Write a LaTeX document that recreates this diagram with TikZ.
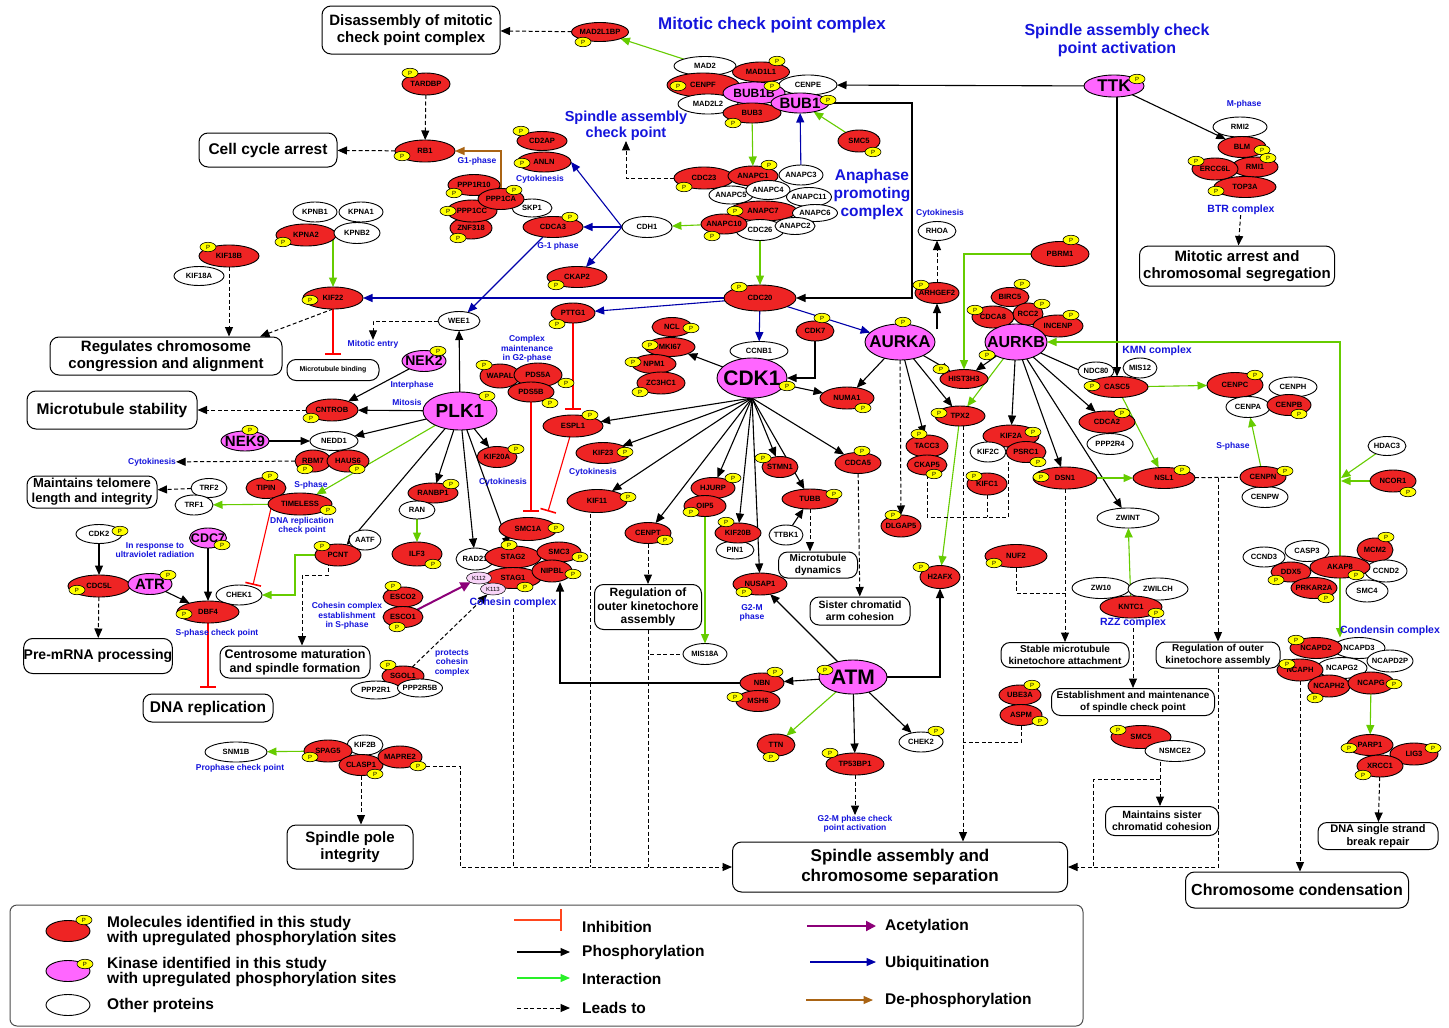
\documentclass[tikz,border=0pt]{standalone}
\usepackage{fontspec}
\setmainfont{Liberation Sans}
\usetikzlibrary{arrows.meta,shapes.geometric}
\definecolor{myred}{RGB}{238,36,36}
\definecolor{mypink}{RGB}{255,102,255}
\definecolor{myyel}{RGB}{255,255,0}
\definecolor{igreen}{RGB}{102,204,0}
\definecolor{ublue}{RGB}{0,0,170}
\definecolor{tblue}{RGB}{20,20,220}
\definecolor{abrown}{RGB}{170,100,20}
\definecolor{apurple}{RGB}{140,0,120}
\definecolor{lgreen}{RGB}{40,240,40}
\definecolor{linh}{RGB}{255,70,30}
\definecolor{palepink}{RGB}{248,212,248}
\newcommand\fsz[2]{\fontsize{#1}{#2}\selectfont}
\pgfdeclarelayer{bg}\pgfdeclarelayer{top}\pgfsetlayers{bg,main,top}
\tikzset{
 every node/.style={font=\bfseries\fsz{7.6}{8}},
 ebase/.style={ellipse, draw=black, line width=0.9pt, inner sep=0pt, outer sep=0pt},
 rd/.style={ebase, fill=myred},
 wt/.style={ebase, fill=white},
 kn/.style={ebase, fill=mypink},
 lk/.style={ebase, fill=palepink, line width=0.5pt, font=\mdseries\fsz{6}{6}},
 kf/.style={font=\bfseries\fsz{#1}{#1}},
 pbadge/.style={ellipse, draw=black, line width=0.6pt, fill=myyel, minimum width=16pt, minimum height=9.5pt, inner sep=0pt, font=\mdseries\fsz{6}{6}},
 obx/.style={draw=black, line width=1pt, rounded corners=9pt, fill=white, align=center, inner sep=0pt},
 lbl/.style={text=tblue, align=center, font=\bfseries\fsz{8.5}{9.5}, inner sep=0pt},
 ttl/.style={text=tblue, align=center, inner sep=0pt},
 AR/.style={-{Triangle[length=9.5pt,width=8pt]}},
 ph/.style={draw=black, line width=1.1pt, AR},
 ia/.style={draw=igreen, line width=1.1pt, AR},
 ub/.style={draw=ublue, line width=1.1pt, AR},
 lt/.style={draw=black, line width=1pt, dash pattern=on 4pt off 2.5pt, AR},
 ltn/.style={draw=black, line width=1pt, dash pattern=on 4pt off 2.5pt},
 inh/.style={draw=red, line width=1.1pt, -{Bar[width=16pt,line width=1.6pt]}},
 ac/.style={draw=apurple, line width=2pt, -{Triangle[length=10pt,width=10pt]}},
 dp/.style={draw=abrown, line width=1.1pt, AR},
 legt/.style={anchor=west, align=left, inner sep=0pt, font=\bfseries\fsz{15.5}{15.5}},
}
\newcommand\prt[6]{\node[#1,minimum width=#4pt,minimum height=#5pt] (#2) at (#3) {\makebox[0pt]{#6}};}
\newcommand\pb[2]{\begin{pgfonlayer}{top}\node[pbadge] (#1p) at (#2) {\makebox[0pt]{P}};\end{pgfonlayer}}
\newcommand\obox[7]{\node[obx,minimum width=#3pt,minimum height=#4pt,font=\bfseries\fsz{#5}{#6}] (#1) at (#2) {#7};}
\begin{document}
\begin{tikzpicture}[x=1pt,y=-1pt]
\begin{pgfonlayer}{bg}
\fill[white] (0,0) rectangle (1449,1028);
\end{pgfonlayer}
\useasboundingbox (0,0) rectangle (1449,1028);

% ---------- titles ----------
\node[ttl,font=\bfseries\fsz{17}{19}] (tMCC) at (772,25) {Mitotic check point complex};
\node[ttl,font=\bfseries\fsz{16}{18}] (tSAC) at (1117,40) {Spindle assembly check\\point activation};
\node[ttl,font=\bfseries\fsz{14.5}{16}] (tSACP) at (626,126) {Spindle assembly\\check point};
\node[ttl,font=\bfseries\fsz{15.5}{18}] (tAPC) at (872,194) {Anaphase\\promoting\\complex};

% ---------- outcome boxes ----------
\obox{oDis}{411,30}{178}{48}{15}{17}{Disassembly of mitotic\\check point complex}
\obox{oCCA}{268,150}{138}{34}{15.5}{17}{Cell cycle arrest}
\obox{oReg}{166,356}{232}{38}{15}{16.5}{Regulates chromosome\\congression and alignment}
\obox{oMTB}{333,370}{92}{21}{7}{8}{Microtubule binding}
\obox{oMS}{112,410}{170}{38}{15.5}{17}{Microtubule stability}
\obox{oTel}{92,492}{130}{32}{13}{15}{Maintains telomere\\length and integrity}
\obox{oPre}{98,656}{143}{35}{14}{16}{Pre-mRNA processing}
\obox{oDNA}{208,708}{130}{28}{15.5}{17}{DNA replication}
\obox{oCen}{295,662}{150}{32}{12.5}{14}{Centrosome maturation\\and spindle formation}
\obox{oSPI}{350,847}{126}{44}{15}{17}{Spindle pole\\integrity}
\obox{oROK}{648,607}{107}{45}{12}{13.5}{Regulation of\\outer kinetochore\\assembly}
\obox{oMTD}{818,565}{79}{26}{10}{11.5}{Microtubule\\dynamics}
\obox{oSCA}{860,611}{100}{28}{10.5}{12}{Sister chromatid\\arm cohesion}
\obox{oSAS}{900,867}{335}{50}{17}{19.5}{Spindle assembly and\\chromosome separation}
\obox{oSMK}{1065,655}{128}{25}{10}{11.5}{Stable microtubule\\kinetochore attachment}
\obox{oROK2}{1218,655}{124}{26}{10}{11.5}{Regulation of outer\\kinetochore assembly}
\obox{oEst}{1133,702}{163}{27}{10}{11.5}{Establishment and maintenance\\of spindle check point}
\obox{oMSC}{1162,821}{113}{29}{10.5}{12}{Maintains sister\\chromatid cohesion}
\obox{oMA}{1237,266}{195}{40}{15}{17}{Mitotic arrest and\\chromosomal segregation}
\obox{oCC}{1297,890}{223}{36}{16}{18}{Chromosome condensation}
\obox{oDSB}{1378,836}{120}{27}{11}{12.5}{DNA single strand\\break repair}

% ---------- blue labels ----------
\node[lbl] (lCyt1) at (540,179) {Cytokinesis};
\node[lbl] (lG1p) at (477,161) {G1-phase};
\node[lbl] (lG1) at (558,246) {G-1 phase};
\node[lbl] (lCyt2) at (940,213) {Cytokinesis};
\node[lbl] (lMent) at (373,344) {Mitotic entry};
\node[lbl] (lCmp) at (527,349) {Complex\\maintenance\\in G2-phase};
\node[lbl] (lInt) at (412,385) {Interphase};
\node[lbl] (lMit) at (407,402) {Mitosis};
\node[lbl] (lCyt3) at (152,462) {Cytokinesis};
\node[lbl] (lCyt4) at (503,482) {Cytokinesis};
\node[lbl] (lCyt5) at (593,472) {Cytokinesis};
\node[lbl] (lSph) at (311,485) {S-phase};
\node[lbl] (lDRC) at (302,526) {DNA replication\\check point};
\node[lbl] (lUV) at (155,550) {In response to\\ultraviolet radiation};
\node[lbl] (lSCP) at (217,633) {S-phase check point};
\node[lbl] (lCoh) at (347,616) {Cohesin complex\\establishment\\in S-phase};
\node[lbl,font=\bfseries\fsz{10.5}{12}] (lCohC) at (513,603) {Cohesin complex};
\node[lbl] (lProt) at (452,663) {protects\\cohesin\\complex};
\node[lbl] (lG2M) at (752,613) {G2-M\\phase};
\node[lbl] (lG2Ma) at (855,824) {G2-M phase check\\point activation};
\node[lbl] (lPro) at (240,768) {Prophase check point};
\node[lbl] (lMph) at (1244,104) {M-phase};
\node[lbl,font=\bfseries\fsz{10.5}{12}] (lBTR) at (1241,210) {BTR complex};
\node[lbl,font=\bfseries\fsz{10.5}{12}] (lKMN) at (1157,351) {KMN complex};
\node[lbl] (lSph2) at (1233,446) {S-phase};
\node[lbl,font=\bfseries\fsz{10.5}{12}] (lRZZ) at (1133,623) {RZZ complex};
\node[lbl,font=\bfseries\fsz{10.5}{12}] (lCond) at (1390,631) {Condensin complex};

% ---------- mitotic checkpoint complex ----------
\prt{rd}{MAD2L1BP}{600,32}{57}{19}{MAD2L1BP}\pb{MAD2L1BP}{583,42}
\prt{wt}{MAD2}{705,66}{62}{19}{MAD2}
\prt{rd}{CENPF}{703,85}{72}{24}{CENPF}\pb{CENPF}{678,86}
\prt{wt}{MAD2L2}{708,104}{60}{20}{MAD2L2}
\prt{rd}{MAD1L1}{761,72}{57}{20}{MAD1L1}\pb{MAD1L1}{777,61}
\prt{wt}{CENPE}{808,85}{58}{20}{CENPE}
\prt{kn,kf=12}{BUB1B}{754,93}{62}{22}{BUB1B}\pb{BUB1B}{772,86}
\prt{rd}{BUB3}{752,113}{58}{20}{BUB3}\pb{BUB3}{733,123}
\prt{kn,kf=15}{BUB1}{800,103}{58}{20}{BUB1}\pb{BUB1}{828,100}
\prt{rd}{SMC5a}{859,141}{42}{22}{SMC5}\pb{SMC5a}{873,152}

% ---------- APC ----------
\prt{rd}{CDC23}{704,178}{60}{22}{CDC23}\pb{CDC23}{684,187}
\prt{rd}{ANAPC1}{753,176}{50}{20}{ANAPC1}\pb{ANAPC1}{769,165}
\prt{wt}{ANAPC3}{801,175}{44}{20}{ANAPC3}
\prt{wt}{ANAPC5}{731,195}{44}{18}{ANAPC5}
\prt{wt}{ANAPC4}{768,190}{44}{19}{ANAPC4}
\prt{wt}{ANAPC11}{809,197}{45}{19}{ANAPC11}
\prt{rd}{ANAPC7}{763,211}{68}{20}{ANAPC7}\pb{ANAPC7}{735,211}
\prt{wt}{ANAPC6}{815,213}{45}{17}{ANAPC6}
\prt{wt}{CDC26}{760,230}{48}{21}{CDC26}
\prt{rd}{ANAPC10}{724,224}{46}{20}{ANAPC10}\pb{ANAPC10}{712,236}
\prt{wt}{ANAPC2}{795,226}{40}{17}{ANAPC2}
\prt{wt}{CDH1}{647,227}{50}{21}{CDH1}

% ---------- left-top ----------
\prt{rd}{CD2AP}{542,141}{50}{19}{CD2AP}\pb{CD2AP}{521,131}
\prt{rd}{ANLN}{544,162}{54}{20}{ANLN}\pb{ANLN}{522,163}
\prt{rd}{CDCA3}{553,227}{60}{21}{CDCA3}\pb{CDCA3}{570,217}
\prt{rd}{CKAP2}{577,277}{60}{21}{CKAP2}\pb{CKAP2}{556,285}
\prt{rd}{ZNF318}{471,228}{42}{22}{ZNF318}\pb{ZNF318}{458,238}
\prt{rd}{PPP1CC}{472,211}{50}{22}{PPP1CC}\pb{PPP1CC}{448,211}
\prt{rd}{PPP1R10}{474,185}{52}{21}{PPP1R10}\pb{PPP1R10}{454,193}
\prt{wt}{SKP1}{532,208}{40}{18}{SKP1}
\prt{rd}{PPP1CA}{501,199}{46}{21}{PPP1CA}\pb{PPP1CA}{514,190}
\prt{rd}{RB1}{425,151}{60}{22}{RB1}\pb{RB1}{402,156}
\prt{rd}{TARDBP}{426,84}{48}{22}{TARDBP}\pb{TARDBP}{410,73}
\prt{wt}{KPNB1}{315,212}{44}{20}{KPNB1}
\prt{wt}{KPNA1}{361,212}{44}{20}{KPNA1}
\prt{rd}{KPNA2}{306,235}{60}{22}{KPNA2}\pb{KPNA2}{283,242}
\prt{wt}{KPNB2}{357,233}{46}{21}{KPNB2}
\prt{wt}{KIF18A}{199,276}{50}{19}{KIF18A}
\prt{rd}{KIF18B}{229,256}{60}{22}{KIF18B}\pb{KIF18B}{208,247}
\prt{rd}{KIF22}{333,298}{60}{22}{KIF22}\pb{KIF22}{310,300}

% ---------- PLK1 region ----------
\prt{rd}{CDC20}{760,298}{72}{26}{CDC20}\pb{CDC20}{739,287}
\prt{rd}{PTTG1}{573,313}{44}{20}{PTTG1}\pb{PTTG1}{557,324}
\prt{wt}{WEE1}{459,321}{42}{19}{WEE1}
\prt{kn,kf=14}{NEK2}{424,361}{44}{21}{NEK2}\pb{NEK2}{438,351}
\prt{kn,kf=19}{PLK1}{460,411}{74}{38}{PLK1}\pb{PLK1}{487,396}
\prt{rd}{CNTROB}{332,410}{52}{22}{CNTROB}\pb{CNTROB}{311,418}
\prt{kn,kf=15}{NEK9}{245,441}{48}{20}{NEK9}\pb{NEK9}{250,430}
\prt{wt}{NEDD1}{334,441}{48}{19}{NEDD1}
\prt{rd}{RBM7}{313,461}{36}{22}{RBM7}\pb{RBM7}{305,469}
\prt{rd}{HAUS6}{348,461}{42}{22}{HAUS6}\pb{HAUS6}{357,469}
\prt{wt}{TRF2}{209,488}{36}{19}{TRF2}
\prt{wt}{TRF1}{194,505}{38}{20}{TRF1}
\prt{rd}{TIPIN}{266,488}{40}{21}{TIPIN}\pb{TIPIN}{270,476}
\prt{rd}{TIMELESS}{300,504}{64}{22}{TIMELESS}\pb{TIMELESS}{328,510}
\prt{wt}{CDK2}{99,534}{46}{19}{CDK2}\pb{CDK2}{120,531}
\prt{rd}{CDC5L}{99,586}{62}{22}{CDC5L}\pb{CDC5L}{77,590}
\prt{kn,kf=15}{ATR}{150,584}{44}{21}{ATR}\pb{ATR}{168,575}
\prt{kn,kf=12.5}{CDC7}{208,538}{37}{20}{CDC7}\pb{CDC7}{222,545}
\prt{wt}{CHEK1}{239,595}{46}{20}{CHEK1}
\prt{rd}{DBF4}{208,612}{62}{22}{DBF4}\pb{DBF4}{184,614}
\prt{wt}{AATF}{365,540}{32}{20}{AATF}
\prt{rd}{PCNT}{338,555}{46}{22}{PCNT}\pb{PCNT}{322,546}
\prt{rd}{KIF20A}{497,457}{40}{21}{KIF20A}\pb{KIF20A}{516,449}
\prt{rd}{RANBP1}{433,493}{50}{20}{RANBP1}\pb{RANBP1}{451,484}
\prt{wt}{RAN}{417,510}{36}{18}{RAN}
\prt{rd}{ILF3}{417,554}{50}{24}{ILF3}\pb{ILF3}{433,564}
\prt{rd}{WAPAL}{500,376}{40}{24}{WAPAL}\pb{WAPAL}{484,365}
\prt{rd}{PDS5A}{538,375}{48}{24}{PDS5A}\pb{PDS5A}{566,383}
\prt{rd}{PDS5B}{531,392}{46}{20}{PDS5B}\pb{PDS5B}{550,403}
\prt{rd}{ESPL1}{573,426}{60}{22}{ESPL1}\pb{ESPL1}{590,415}
\prt{rd}{KIF23}{603,453}{54}{21}{KIF23}\pb{KIF23}{625,452}
\prt{rd}{KIF11}{597,501}{60}{23}{KIF11}\pb{KIF11}{628,497}
\prt{rd}{SMC1A}{528,529}{58}{23}{SMC1A}\pb{SMC1A}{556,528}
\prt{wt}{RAD21}{475,559}{38}{22}{RAD21}
\prt{rd}{STAG2}{513,557}{56}{22}{STAG2}\pb{STAG2}{509,545}
\prt{rd}{SMC3}{559,552}{44}{20}{SMC3}\pb{SMC3}{580,557}
\prt{rd}{STAG1}{513,578}{56}{21}{STAG1}\pb{STAG1}{525,587}
\prt{rd}{NIPBL}{552,571}{40}{22}{NIPBL}\pb{NIPBL}{573,574}
\prt{lk}{K112}{479,578}{25}{12}{K112}
\prt{lk}{K113}{493,589}{25}{12}{K113}
\prt{rd}{ESCO2}{403,597}{40}{20}{ESCO2}\pb{ESCO2}{393,586}
\prt{rd}{ESCO1}{403,617}{40}{21}{ESCO1}\pb{ESCO1}{397,627}
\prt{rd}{SGOL1}{403,676}{42}{20}{SGOL1}\pb{SGOL1}{388,665}
\prt{wt}{PPP2R1}{376,690}{50}{18}{PPP2R1}
\prt{wt}{PPP2R5B}{420,688}{45}{18}{PPP2R5B}

% ---------- CDK1 region ----------
\prt{rd}{NCL}{672,327}{40}{19}{NCL}\pb{NCL}{691,328}
\prt{rd}{MKI67}{670,347}{50}{19}{MKI67}\pb{MKI67}{650,345}
\prt{rd}{NPM1}{654,364}{44}{19}{NPM1}\pb{NPM1}{633,362}
\prt{rd}{ZC3HC1}{661,383}{48}{22}{ZC3HC1}\pb{ZC3HC1}{640,392}
\prt{wt}{CCNB1}{759,351}{58}{19}{CCNB1}
\prt{kn,kf=21}{CDK1}{752,378}{70}{40}{CDK1}\pb{CDK1}{787,386}
\prt{rd}{CDK7}{815,331}{38}{20}{CDK7}\pb{CDK7}{822,318}
\prt{rd}{NUMA1}{847,398}{54}{22}{NUMA1}\pb{NUMA1}{863,408}
\prt{rd}{CENPT}{648,533}{46}{21}{CENPT}\pb{CENPT}{665,540}
\prt{rd}{HJURP}{713,488}{44}{21}{HJURP}\pb{HJURP}{733,478}
\prt{rd}{OIP5}{705,506}{42}{21}{OIP5}\pb{OIP5}{691,512}
\prt{wt}{PIN1}{735,550}{38}{18}{PIN1}
\prt{rd}{KIF20B}{738,533}{46}{20}{KIF20B}\pb{KIF20B}{726,522}
\prt{rd}{STMN1}{780,467}{36}{21}{STMN1}\pb{STMN1}{763,458}
\prt{rd}{TUBB}{810,499}{56}{20}{TUBB}\pb{TUBB}{834,494}
\prt{wt}{TTBK1}{786,535}{34}{20}{TTBK1}
\prt{rd}{NUSAP1}{760,584}{54}{22}{NUSAP1}\pb{NUSAP1}{744,592}
\prt{rd}{CDCA5}{858,463}{46}{21}{CDCA5}\pb{CDCA5}{862,451}
\prt{wt}{MIS18A}{705,654}{44}{21}{MIS18A}

% ---------- AURKA / AURKB ----------
\prt{kn,kf=17}{AURKA}{900,342}{70}{36}{AURKA}\pb{AURKA}{903,322}
\prt{rd}{ARHGEF2}{937,293}{44}{21}{ARHGEF2}\pb{ARHGEF2}{921,285}
\prt{wt}{RHOA}{937,231}{38}{19}{RHOA}
\prt{rd}{HIST3H3}{964,379}{48}{19}{HIST3H3}\pb{HIST3H3}{941,369}
\prt{rd}{TPX2}{960,416}{50}{20}{TPX2}\pb{TPX2}{939,413}
\prt{rd}{TACC3}{927,446}{42}{22}{TACC3}\pb{TACC3}{919,434}
\prt{rd}{CKAP5}{927,465}{40}{20}{CKAP5}\pb{CKAP5}{934,474}
\prt{rd}{DLGAP5}{901,526}{40}{22}{DLGAP5}\pb{DLGAP5}{893,515}
\prt{rd}{H2AFX}{940,577}{40}{23}{H2AFX}\pb{H2AFX}{921,567}
\prt{rd}{KIF2A}{1011,436}{56}{22}{KIF2A}\pb{KIF2A}{1033,432}
\prt{wt}{KIF2C}{988,452}{36}{20}{KIF2C}
\prt{rd}{PSRC1}{1026,452}{40}{21}{PSRC1}\pb{PSRC1}{1038,462}
\prt{rd}{KIFC1}{987,484}{40}{22}{KIFC1}\pb{KIFC1}{974,476}
\prt{rd}{PBRM1}{1060,254}{58}{25}{PBRM1}\pb{PBRM1}{1071,240}
\prt{rd}{BIRC5}{1010,297}{38}{19}{BIRC5}\pb{BIRC5}{1022,284}
\prt{rd}{CDCA8}{993,317}{42}{22}{CDCA8}\pb{CDCA8}{975,310}
\prt{rd}{RCC2}{1028,314}{30}{22}{RCC2}\pb{RCC2}{1042,304}
\prt{rd}{INCENP}{1058,326}{50}{22}{INCENP}\pb{INCENP}{1071,315}
\prt{kn,kf=16}{AURKB}{1016,342}{62}{36}{AURKB}\pb{AURKB}{987,355}
\prt{rd}{DSN1}{1065,478}{64}{22}{DSN1}\pb{DSN1}{1041,477}
\prt{rd}{NUF2}{1016,556}{62}{23}{NUF2}\pb{NUF2}{994,563}
\prt{rd}{UBE3A}{1020,695}{42}{20}{UBE3A}\pb{UBE3A}{1032,685}
\prt{rd}{ASPM}{1021,715}{42}{21}{ASPM}\pb{ASPM}{1040,721}

% ---------- ATM ----------
\prt{kn,kf=21}{ATM}{853,677}{68}{34}{ATM}\pb{ATM}{825,670}
\prt{rd}{NBN}{762,683}{44}{20}{NBN}\pb{NBN}{775,672}
\prt{rd}{MSH6}{758,701}{44}{21}{MSH6}\pb{MSH6}{735,697}
\prt{rd}{TTN}{776,745}{38}{22}{TTN}\pb{TTN}{771,757}
\prt{rd}{TP53BP1}{855,764}{58}{22}{TP53BP1}\pb{TP53BP1}{830,753}
\prt{wt}{CHEK2}{921,742}{44}{20}{CHEK2}\pb{CHEK2}{936,731}

% ---------- spindle pole ----------
\prt{wt}{SNM1B}{236,752}{62}{20}{SNM1B}
\prt{wt}{KIF2B}{365,745}{36}{20}{KIF2B}
\prt{rd}{SPAG5}{328,751}{48}{22}{SPAG5}\pb{SPAG5}{310,757}
\prt{rd}{CLASP1}{361,765}{44}{21}{CLASP1}\pb{CLASP1}{375,774}
\prt{rd}{MAPRE2}{400,757}{44}{22}{MAPRE2}\pb{MAPRE2}{418,766}

% ---------- TTK / BTR ----------
\prt{kn,kf=17}{TTK}{1114,86}{60}{22}{TTK}\pb{TTK}{1137,79}
\prt{wt}{RMI2}{1240,127}{54}{20}{RMI2}
\prt{rd}{BLM}{1242,147}{48}{21}{BLM}\pb{BLM}{1262,150}
\prt{rd}{RMI1}{1255,167}{46}{20}{RMI1}\pb{RMI1}{1268,158}
\prt{rd}{TOP3A}{1245,187}{62}{21}{TOP3A}\pb{TOP3A}{1216,191}
\prt{rd}{ERCC6L}{1215,169}{46}{22}{ERCC6L}\pb{ERCC6L}{1196,161}

% ---------- KMN etc ----------
\prt{wt}{NDC80}{1096,371}{36}{18}{NDC80}
\prt{wt}{MIS12}{1140,368}{34}{20}{MIS12}
\prt{rd}{CASC5}{1117,387}{62}{21}{CASC5}\pb{CASC5}{1092,386}
\prt{rd}{CDCA2}{1107,422}{56}{22}{CDCA2}\pb{CDCA2}{1122,413}
\prt{wt}{PPP2R4}{1110,444}{46}{21}{PPP2R4}
\prt{rd}{CENPC}{1235,385}{56}{25}{CENPC}\pb{CENPC}{1255,375}
\prt{wt}{CENPH}{1293,387}{48}{20}{CENPH}
\prt{wt}{CENPA}{1248,407}{44}{21}{CENPA}
\prt{rd}{CENPB}{1289,405}{44}{21}{CENPB}\pb{CENPB}{1299,414}
\prt{rd}{NSL1}{1164,478}{62}{21}{NSL1}\pb{NSL1}{1182,470}
\prt{wt}{CENPW}{1265,497}{46}{21}{CENPW}
\prt{rd}{CENPN}{1263,477}{46}{21}{CENPN}\pb{CENPN}{1285,471}
\prt{wt}{ZWINT}{1128,518}{62}{20}{ZWINT}
\prt{wt}{ZW10}{1101,588}{58}{21}{ZW10}
\prt{wt}{ZWILCH}{1158,589}{60}{22}{ZWILCH}
\prt{rd}{KNTC1}{1131,607}{62}{22}{KNTC1}\pb{KNTC1}{1156,613}
\prt{wt}{HDAC3}{1387,446}{38}{19}{HDAC3}
\prt{rd}{NCOR1}{1393,481}{46}{22}{NCOR1}\pb{NCOR1}{1408,492}
\prt{wt}{CCND3}{1264,557}{42}{20}{CCND3}
\prt{wt}{CASP3}{1307,551}{44}{21}{CASP3}
\prt{rd}{MCM2}{1375,550}{36}{24}{MCM2}\pb{MCM2}{1386,537}
\prt{wt}{CCND2}{1386,571}{42}{22}{CCND2}
\prt{wt}{SMC4}{1367,591}{42}{22}{SMC4}
\prt{rd}{DDX5}{1291,572}{40}{20}{DDX5}\pb{DDX5}{1276,580}
\prt{rd}{PRKAR2A}{1314,588}{46}{21}{PRKAR2A}\pb{PRKAR2A}{1326,598}
\prt{rd}{AKAP8}{1340,567}{60}{22}{AKAP8}\pb{AKAP8}{1356,575}
\prt{wt}{NCAPD3}{1359,648}{52}{21}{NCAPD3}
\prt{wt}{NCAPD2P}{1390,661}{46}{22}{NCAPD2P}
\prt{rd}{NCAPD2}{1316,648}{52}{21}{NCAPD2}\pb{NCAPD2}{1296,640}
\prt{wt}{NCAPG2}{1342,668}{50}{21}{NCAPG2}
\prt{rd}{NCAPH}{1300,670}{46}{22}{NCAPH}\pb{NCAPH}{1287,664}
\prt{rd}{NCAPH2}{1329,686}{42}{22}{NCAPH2}\pb{NCAPH2}{1315,698}
\prt{rd}{NCAPG}{1371,683}{46}{22}{NCAPG}\pb{NCAPG}{1394,684}
\prt{rd}{LIG3}{1414,754}{48}{22}{LIG3}\pb{LIG3}{1433,748}
\prt{rd}{PARP1}{1370,745}{46}{21}{PARP1}\pb{PARP1}{1349,748}
\prt{rd}{XRCC1}{1380,766}{46}{22}{XRCC1}\pb{XRCC1}{1363,775}
\prt{rd}{SMC5b}{1141,737}{60}{23}{SMC5}\pb{SMC5b}{1118,730}
\prt{wt}{NSMCE2}{1175,751}{60}{21}{NSMCE2}

% ---------- junction coordinates ----------
\coordinate (nufj) at (1065,593);
\coordinate (aspj) at (963,742);
\coordinate (brk) at (1008,517);
\coordinate (akj) at (1341,478);
\coordinate (akj2) at (1341,481);

% ---------- connectors ----------
\begin{pgfonlayer}{bg}
\draw[lt] (MAD2L1BP) -- (oDis);
\draw[ia] (MAD2) -- (MAD2L1BP);
\draw[ph] (TTK) -- (CENPE);
\draw[ia] (BUB3) -- (ANAPC1);
\draw[ub] (ANAPC3) -- (BUB1);
\draw[ia] (SMC5a) -- (BUB1);
\draw[ph] (BUB1.east) -- ++(83,0) |- (CDC20.east);
\draw[lt] (CDC23.west) -| (tSACP.south);
\draw[ia] (ANAPC10) -- (CDH1);
\draw[ia] (CDC26) -- (CDC20);
\draw[ub] (CDH1.west) -- (ANLN.east);
\draw[ub] (CDH1.west) -- (CDCA3);
\draw[ub] (CDH1.west) -- (CKAP2);
\draw[ub] (CDCA3) -- (WEE1);
\draw[dp] (PPP1CA.north) |- (RB1.east);
\draw[lt] (TARDBP) -- (RB1);
\draw[lt] (RB1) -- (oCCA);
\draw[ia] (KIF22.north |- KPNA2.center) -- (KIF22.north);
\draw[ub] (CDC20) -- (KIF22);
\draw[ub] (CDC20) -- (PTTG1);
\draw[ub] (CDC20) -- (CCNB1);
\draw[ub] (CDC20) -- (AURKA);
\draw[lt] (KIF22.south) -- ([xshift=94pt]oReg.north);
\draw[inh] (KIF22.south) -- ([yshift=4pt]oMTB.north);
\draw[lt] (KIF18B.south) -- (KIF18B.south |- oReg.north);
\draw[lt] (WEE1.west) -| (lMent.north);
\draw[ph] (PLK1) -- (WEE1);
\draw[ph] (NEK2) -- (CNTROB);
\draw[ph] (PLK1) -- (CNTROB);
\draw[lt] (CNTROB) -- (oMS);
\draw[ph] (NEK9) -- (NEDD1);
\draw[ph] (PLK1) -- (NEDD1);
\draw[lt] (RBM7) -- (lCyt3);
\draw[lt] (TRF2) -- (oTel);
\draw[ia] (TIMELESS) -- (TRF1);
\draw[ia] (PLK1) -- (TIMELESS);
\draw[inh] ([xshift=-28pt]TIMELESS.center) -- ([xshift=14pt]CHEK1.north);
\draw[ph] (CDK2) -- (CDC5L);
\draw[lt] (CDC5L) -- (oPre);
\draw[ph] (ATR) -- (DBF4);
\draw[ph] (CDC7) -- (DBF4);
\draw[inh] (DBF4) -- ([yshift=6pt]oDNA.north);
\draw[ia] (PCNT.west) -- ++(-20,0) |- (CHEK1.east);
\draw[ph] (PLK1) -- (PCNT);
\draw[lt] ([xshift=-10pt]PCNT.center) -- ++(0,20) -| ([xshift=7pt]oCen.north);
\draw[ph] (PLK1) -- (KIF20A);
\draw[ph] (PLK1) -- (RANBP1);
\draw[ia] (RAN) -- (ILF3);
\draw[ph] (PLK1) -- (RAD21);
\draw[ph] (PLK1) -- (STAG2);
\draw[ac] (ESCO1) -- (K112);
\draw[lt] (SGOL1) -- (K113);
\draw[inh] (PDS5B.south) -- ([xshift=3pt,yshift=6pt]SMC1A.north);
\draw[inh] (PTTG1) -- ([yshift=5pt]ESPL1.north);
\draw[inh] (ESPL1) -- ([xshift=20pt,yshift=6pt]SMC1A.north);
\draw[ph] (CDK1.south) -- (ESPL1);
\draw[ph] (CDK1.south) -- (KIF23);
\draw[ph] (CDK1.south) -- (KIF11);
\draw[ph] (CDK1.south) -- (CENPT);
\draw[ph] (CDK1.south) -- (HJURP);
\draw[ph] (CDK1.south) -- (KIF20B);
\draw[ph] (CDK1.south) -- (NUSAP1);
\draw[ph] (CDK1.south) -- (STMN1);
\draw[ph] (CDK1.south) -- (TUBB);
\draw[ph] (CDK1.south) -- (CDCA5);
\draw[ph] (CDK1) -- (NUMA1);
\draw[ph] (CDK1) -- (MKI67);
\draw[ph] (CDK7.south) |- (CDK1.east);
\draw[ph] (TTBK1) -- (TUBB);
\draw[lt] (TUBB.south) -- (TUBB.south |- oMTD.north);
\draw[lt] (CDCA5) -- (oSCA);
\draw[lt] (CENPT) -- (oROK);
\draw[ia] (OIP5) -- (MIS18A);
\draw[ltn] (oROK.south) |- (MIS18A.west);
\draw[lt] (MAPRE2p.east) -| ([xshift=-272pt]oSAS.west) -- (oSAS.west);
\draw[ltn] (lCohC.south) -- (lCohC.south |- oSAS.west);
\draw[ltn] ([xshift=-7pt]KIF11.center) -- ([xshift=-7pt]KIF11.center |- oSAS.west);
\draw[ltn] (oROK.south) -- (oROK.south |- oSAS.west);
\draw[ph] (NBN.west) -| ([xshift=8pt]NIPBL.south);
\draw[ph] (ATM) -- (NBN);
\draw[ph] (ATM) -- (NUSAP1);
\draw[ph] (ATM.east) -| (H2AFX.south);
\draw[ia] (TPX2) -- (H2AFX);
\draw[ia] (ATM) -- (TTN);
\draw[ph] (ATM) -- (TP53BP1);
\draw[ph] (ATM) -- (CHEK2);
\draw[lt] (TP53BP1) -- (lG2Ma.north);
\draw[ph] (ARHGEF2.south |- AURKA.north east) -- (ARHGEF2.south);
\draw[lt] (ARHGEF2) -- (RHOA);
\draw[ph] (AURKA) -- (NUMA1);
\draw[ph] (AURKA) -- (HIST3H3);
\draw[ph] (AURKA) -- (TPX2);
\draw[ph] (AURKA) -- (TACC3);
\draw[lt] (AURKA) -- (DLGAP5);
\draw[ia] (PBRM1.west) -| (HIST3H3.north);
\draw[ph] (AURKB) -- (HIST3H3);
\draw[ia] (AURKB) -- (TPX2);
\draw[ph] (AURKB) -- (KIF2A);
\draw[ph] (AURKB) -- (DSN1);
\draw[ph] (AURKB) -- (ZWINT);
\draw[ph] (AURKB) -- (CDCA2);
\draw[ph] (AURKB) -- (CASC5);
\draw[ph] (CASC5.north |- TTK.south) -- (CASC5.north);
\draw[ph] (TTK) -- (BLM);
\draw[lt] (lBTR) -- (oMA);
\draw[ia] (CASC5) -- (CENPC);
\draw[ia] (CASC5) -- (NSL1);
\draw[ia] (DSN1) -- (NSL1);
\draw[ia] (CENPN) -- (CENPA);
\draw[ltn] (NSL1) -- (CENPN);
\draw[lt] (oROK2.north |- NSL1.east) -- (oROK2.north);
\draw[lt] (oROK2.south) |- (oSAS.east);
\draw[lt] ([xshift=-15pt]NSMCE2.south) -- ([xshift=-2pt]oMSC.north);
\draw[ltn] ([xshift=-15pt,yshift=-18pt]NSMCE2.south) -| ([xshift=25pt]oSAS.east);
\draw[lt] (DSN1) -- (oSMK);
\draw[ltn] (NUF2.south) |- (nufj);
\draw[ia] (KNTC1) -- (ZWINT);
\draw[lt] (lRZZ.south) -- (oEst.north);
\draw[ltn] (ASPM.south) |- (aspj);
\draw[lt] ([xshift=3pt]TPX2.south) -- ([xshift=3pt]TPX2.south |- oSAS.north);
\draw[ltn] (CKAP5.south) |- (brk) -- ++(0,-55);
\draw[ltn] (KIFC1.south) -- (KIFC1.south |- brk);
\draw[ia] (AKAP8) |- (AURKB.east);
\draw[ia] (AKAP8) -- ([xshift=24pt]NCAPD2.north);
\draw[ia] (HDAC3) -- (akj);
\draw[ia] (NCOR1) -- (akj2);
\draw[ia] (NCAPG) -- (PARP1);
\draw[lt] (XRCC1) -- (oDSB);
\draw[lt] (NCAPH.south) -- (NCAPH.south |- oCC.north);
\draw[ia] (SPAG5) -- (SNM1B);
\draw[lt] (CLASP1.south) -- (CLASP1.south |- oSPI.north);
\end{pgfonlayer}

% ---------- legend ----------
\node[draw=black!70, line width=1pt, rounded corners=7pt, minimum width=1073pt, minimum height=121pt, inner sep=0pt] (legbox) at (546.5,965.5) {};
\prt{rd}{lgR}{68,931}{44}{21}{}\pb{lgR}{84,920}
\prt{kn}{lgK}{68,971}{44}{21}{}\pb{lgK}{85,964}
\prt{wt}{lgW}{68,1005}{44}{21}{}
\node[legt] (tR) at (107,931) {Molecules identified in this study\\with upregulated phosphorylation sites};
\node[legt] (tK) at (107,972) {Kinase identified in this study\\with upregulated phosphorylation sites};
\node[legt] (tW) at (107,1005) {Other proteins};
\coordinate (li1) at (514,920); \coordinate (li2) at (562,920);
\coordinate (lp1) at (517,952); \coordinate (lp2) at (570,952);
\coordinate (lg1) at (517,978); \coordinate (lg2) at (570,978);
\coordinate (ll1) at (517,1008); \coordinate (ll2) at (570,1008);
\coordinate (la1) at (807,926); \coordinate (la2) at (876,926);
\coordinate (lu1) at (810,962); \coordinate (lu2) at (876,962);
\coordinate (ld1) at (806,1000); \coordinate (ld2) at (873,1000);
\draw[draw=linh, line width=1.2pt, -{Bar[width=22pt,line width=1.8pt]}] (li1) -- (li2);
\draw[ph] (lp1) -- (lp2);
\draw[draw=lgreen, line width=1.1pt, AR] (lg1) -- (lg2);
\draw[lt] (ll1) -- (ll2);
\draw[ac] (la1) -- (la2);
\draw[ub] (lu1) -- (lu2);
\draw[dp] (ld1) -- (ld2);
\node[legt] (tInh) at (582,927) {Inhibition};
\node[legt] (tPh) at (582,952) {Phosphorylation};
\node[legt] (tIa) at (582,979) {Interaction};
\node[legt] (tLt) at (582,1008) {Leads to};
\node[legt] (tAc) at (885,926) {Acetylation};
\node[legt] (tUb) at (885,963) {Ubiquitination};
\node[legt] (tDp) at (885,1000) {De-phosphorylation};
\end{tikzpicture}
\end{document}
